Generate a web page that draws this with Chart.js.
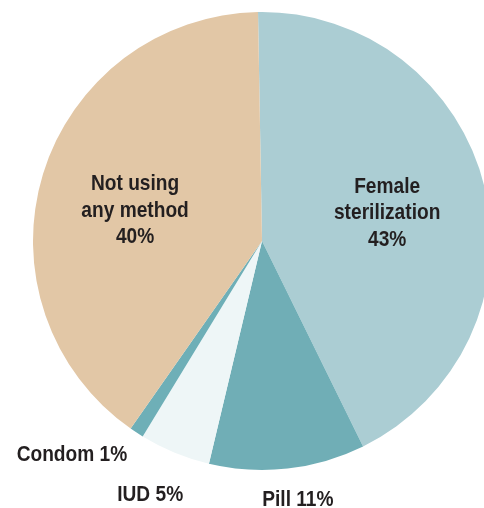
<!DOCTYPE html>
<html>
<head>
<meta charset="utf-8">
<script src="https://cdn.jsdelivr.net/npm/chart.js@4"></script>
<style>
  html, body { margin: 0; padding: 0; background: #ffffff; overflow: hidden; }
  #wrap { position: absolute; left: 0; top: 0; width: 500px; height: 508px; }
</style>
</head>
<body>
<div id="wrap"><canvas id="chart" width="500" height="508"></canvas></div>
<script>
// Contraceptive method use, share of women (%)
const categories = ['Female sterilization', 'Pill', 'IUD', 'Condom', 'Not using any method'];
const shares = [43, 11, 5, 1, 40];
// Text lines per slice; the percentage is appended from the data
const labelLines = [['Female', 'sterilization'], ['Pill'], ['IUD'], ['Condom'], ['Not using', 'any method']];
const sliceColors = ['#abcdd3', '#70aeb6', '#eef6f7', '#6eafb7', '#e2c7a6'];

// Where each slice's caption sits: fraction of the radius along the slice's mid-angle,
// an optional angle shift (degrees) and whether the text goes inside the pie
const labelPlacement = [
  { r: 0.56, shift: 1, inside: true },
  { r: 1.14, shift: -1.5, inside: false },
  { r: 1.21, shift: 1.4, inside: false },
  { r: 1.25, shift: 8.4, inside: false },
  { r: 0.57, shift: -3.5, inside: true }
];

const sliceLabels = {
  id: 'sliceLabels',
  afterDatasetsDraw(chart) {
    const ctx = chart.ctx;
    const meta = chart.getDatasetMeta(0);
    ctx.save();
    ctx.fillStyle = '#231f20';
    ctx.textAlign = 'center';
    ctx.textBaseline = 'middle';
    ctx.font = 'bold 22px "Liberation Sans", Arial, sans-serif';
    const squeeze = 0.87;
    const lineH = 26.5;
    meta.data.forEach((arc, i) => {
      const p = arc.getProps(['x', 'y', 'startAngle', 'endAngle', 'outerRadius'], true);
      const place = labelPlacement[i];
      const mid = (p.startAngle + p.endAngle) / 2 + place.shift * Math.PI / 180;
      const cx = p.x + Math.cos(mid) * p.outerRadius * place.r;
      const cy = p.y + Math.sin(mid) * p.outerRadius * place.r;
      let lines;
      if (place.inside) {
        lines = labelLines[i].concat([shares[i] + '%']);
      } else {
        lines = [labelLines[i].join(' ') + ' ' + shares[i] + '%'];
      }
      const top = cy - (lines.length - 1) * lineH / 2;
      lines.forEach((t, k) => {
        ctx.save();
        ctx.translate(cx, top + k * lineH);
        ctx.scale(squeeze, 1);
        ctx.fillText(t, 0, 0);
        ctx.restore();
      });
    });
    ctx.restore();
  }
};

new Chart(document.getElementById('chart'), {
  type: 'pie',
  data: {
    labels: categories,
    datasets: [{
      data: shares,
      backgroundColor: sliceColors,
      borderWidth: 0,
      hoverOffset: 0
    }]
  },
  options: {
    responsive: false,
    animation: false,
    rotation: -1,
    layout: { padding: { left: 33, top: 12, right: 9, bottom: 38 } },
    plugins: {
      legend: { display: false },
      tooltip: { enabled: false }
    }
  },
  plugins: [sliceLabels]
});
</script>
</body>
</html>
